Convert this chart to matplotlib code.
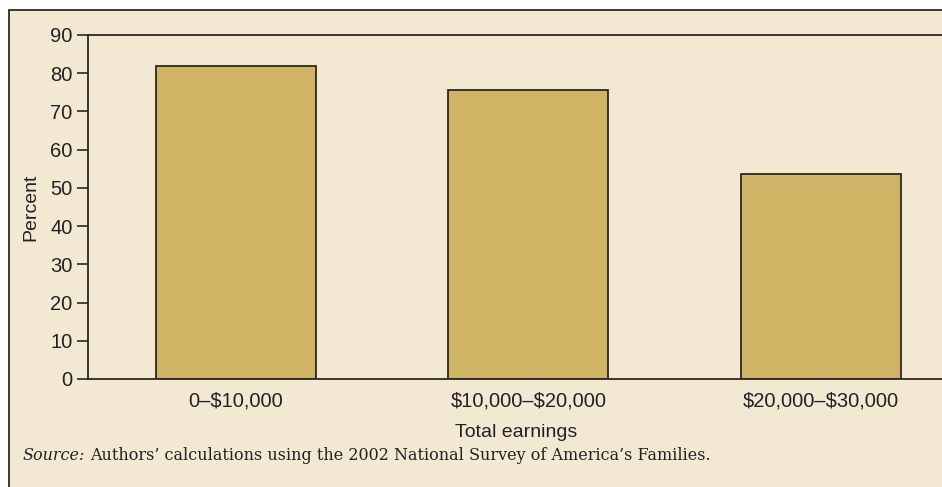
import matplotlib.pyplot as plt
from matplotlib.patches import Rectangle

# Data
categories = ['0\u2013\\$10,000', '\\$10,000\u2013\\$20,000', '\\$20,000\u2013\\$30,000']
percent = [82, 75.5, 53.7]
y_ticks = [0, 10, 20, 30, 40, 50, 60, 70, 80, 90]

BG = '#f3e9d3'
BAR = '#cfb466'
EDGE = '#2b2824'
TXT = '#222222'

W, H = 942, 487
plt.rcParams['font.family'] = ['Liberation Sans', 'DejaVu Sans']
fig = plt.figure(figsize=(W / 100, H / 100), dpi=100, facecolor='white')

# Panel background with border on left and top (runs off the image right/bottom)
panel = Rectangle((9 / W, -0.05), 1.1, 1 - 10 / H + 0.05,
                  transform=fig.transFigure, facecolor=BG,
                  edgecolor=EDGE, linewidth=1.3, zorder=-10)
fig.add_artist(panel)

ax = fig.add_axes([88 / W, 1 - 379 / H, 1 - 88 / W + 0.002, (379 - 35) / H])
ax.set_zorder(5)
ax.patch.set_alpha(0)

x = range(len(categories))
ax.bar(x, percent, width=0.546, color=BAR, edgecolor=EDGE, linewidth=1.3)

ax.set_xlim(-0.505, 2.42)
ax.set_ylim(0, 90)
ax.set_yticks(y_ticks)
ax.set_xticks(list(x))
ax.set_xticklabels(categories)
ax.tick_params(axis='y', direction='out', length=8, width=1.2, color=EDGE,
               labelsize=14.5, pad=3, labelcolor=TXT)
ax.tick_params(axis='x', length=0, labelsize=14.5, pad=9, labelcolor=TXT)

for side in ['left', 'bottom', 'top']:
    ax.spines[side].set_color(EDGE)
    ax.spines[side].set_linewidth(1.3)
ax.spines['right'].set_visible(False)

ax.set_ylabel('Percent', fontsize=14, color=TXT, labelpad=8)
ax.set_xlabel('Total earnings', fontsize=14, color=TXT, labelpad=10)

serif = ['DejaVu Serif']
src = fig.text(23 / W, 1 - 456 / H, 'Source:', fontsize=11.5, style='italic',
               family=serif, color=TXT, va='center')
fig.canvas.draw()
bb = src.get_window_extent()
fig.text((bb.x1 + 5) / W, 1 - 456 / H,
         'Authors\u2019 calculations using the 2002 National Survey of America\u2019s Families.',
         fontsize=11.5, family=serif, color=TXT, va='center')

fig.savefig('out.png', dpi=100, facecolor='white')
